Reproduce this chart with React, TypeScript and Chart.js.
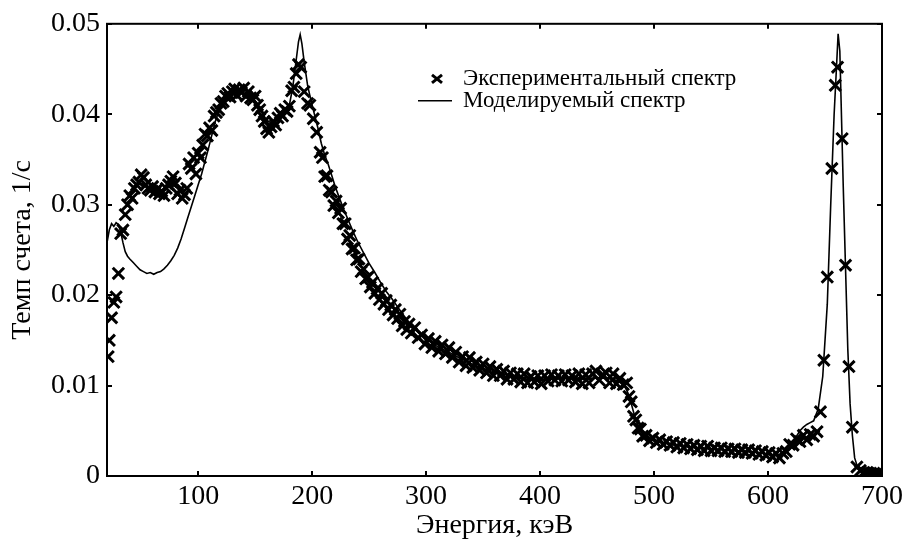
import React, { useEffect, useRef } from 'react';
import { Chart, registerables } from 'chart.js';

Chart.register(...registerables);

const FONT = '"Liberation Serif", "Times New Roman", serif';

const xTickValues = [100, 200, 300, 400, 500, 600, 700];
const yTickValues = [0, 0.01, 0.02, 0.03, 0.04, 0.05];

const legendLabels = ['Экспериментальный спектр', 'Моделируемый спектр'];
const xTitle = 'Энергия, кэВ';
const yTitle = 'Темп счета, 1/с';

// Experimental spectrum (crosses)
const expEnergy = [
  21, 22, 24, 26, 28, 30, 32, 34, 36, 38,
  40, 42, 44, 46, 48, 50, 52, 54, 56, 58,
  60, 62, 64, 66, 68, 70, 72, 74, 76, 78,
  80, 82, 84, 86, 88, 90, 92, 94, 96, 98,
  100, 102, 104, 106, 108, 110, 112, 114, 116, 118,
  120, 122, 124, 126, 128, 130, 132, 134, 136, 138,
  140, 142, 144, 146, 148, 150, 152, 154, 156, 158,
  160, 162, 164, 166, 168, 170, 172, 174, 176, 178,
  180, 182, 184, 186, 188, 190, 193, 196, 198, 201,
  204, 207, 209, 211, 213, 215, 217, 219, 221, 223,
  225, 227, 229, 231, 233, 235, 237, 239, 241, 243,
  245, 247, 249, 251, 253, 255, 257, 259, 261, 263,
  265, 267, 269, 271, 273, 275, 277, 279, 281, 283,
  285, 287, 290, 293, 296, 299, 302, 305, 308, 311,
  314, 317, 320, 323, 326, 329, 332, 335, 338, 341,
  344, 347, 350, 353, 356, 359, 362, 365, 368, 371,
  374, 377, 380, 383, 386, 389, 392, 395, 398, 401,
  404, 407, 410, 413, 416, 419, 422, 425, 428, 431,
  434, 437, 440, 443, 446, 449, 452, 455, 458, 461,
  464, 467, 470, 473, 476, 478, 480, 482, 484, 486,
  488, 490, 493, 496, 499, 502, 505, 508, 511, 514,
  517, 520, 523, 526, 529, 532, 535, 538, 541, 544,
  547, 550, 553, 556, 559, 562, 565, 568, 571, 574,
  577, 580, 583, 586, 589, 592, 595, 598, 601, 604,
  607, 610, 613, 616, 619, 622, 625, 628, 631, 634,
  637, 640, 643, 646, 649, 652, 656, 659, 661, 665,
  668, 671, 674, 678, 681, 684, 687, 690, 693, 696,
  699,
];
const expRate = [
  0.0132, 0.0150, 0.0175, 0.0192, 0.0198, 0.0224, 0.0268, 0.0272, 0.0289, 0.0300,
  0.0310, 0.0307, 0.0318, 0.0322, 0.0325, 0.0333, 0.0330, 0.0322, 0.0318, 0.0316,
  0.0320, 0.0314, 0.0317, 0.0312, 0.0315, 0.0310, 0.0318, 0.0322, 0.0326, 0.0331,
  0.0324, 0.0312, 0.0316, 0.0307, 0.0311, 0.0318, 0.0345, 0.0340, 0.0352, 0.0334,
  0.0357, 0.0352, 0.0366, 0.0378, 0.0376, 0.0385, 0.0382, 0.0398, 0.0402, 0.0405,
  0.0412, 0.0414, 0.0420, 0.0423, 0.0419, 0.0425, 0.0428, 0.0421, 0.0427, 0.0424,
  0.0429, 0.0420, 0.0425, 0.0418, 0.0416, 0.0420, 0.0410, 0.0405, 0.0398, 0.0392,
  0.0384, 0.0380, 0.0386, 0.0392, 0.0388, 0.0396, 0.0401, 0.0398, 0.0405, 0.0403,
  0.0409, 0.0426, 0.0430, 0.0445, 0.0455, 0.0452, 0.0425, 0.0412, 0.0410, 0.0395,
  0.0380, 0.0358, 0.0352, 0.0331, 0.0332, 0.0316, 0.0314, 0.0299, 0.0304, 0.0291,
  0.0296, 0.0279, 0.0279, 0.0262, 0.0266, 0.0251, 0.0252, 0.0239, 0.0240, 0.0226,
  0.0229, 0.0218, 0.0220, 0.0209, 0.0214, 0.0202, 0.0207, 0.0195, 0.0202, 0.0190,
  0.0194, 0.0184, 0.0189, 0.0178, 0.0184, 0.0174, 0.0179, 0.0166, 0.0171, 0.0162,
  0.0168, 0.0158, 0.0164, 0.0153, 0.0156, 0.0146, 0.0152, 0.0142, 0.0149, 0.0138,
  0.0145, 0.0135, 0.0142, 0.0131, 0.0137, 0.0126, 0.0132, 0.0122, 0.0131, 0.0120,
  0.0126, 0.0117, 0.0124, 0.0114, 0.0121, 0.0111, 0.0118, 0.0111, 0.0116, 0.0107,
  0.0114, 0.0107, 0.0113, 0.0104, 0.0113, 0.0103, 0.0110, 0.0104, 0.0111, 0.0102,
  0.0111, 0.0105, 0.0112, 0.0106, 0.0111, 0.0105, 0.0112, 0.0106, 0.0111, 0.0104,
  0.0113, 0.0102, 0.0112, 0.0103, 0.0113, 0.0116, 0.0106, 0.0112, 0.0114, 0.0103,
  0.0113, 0.0102, 0.0108, 0.0101, 0.0103, 0.0088, 0.0082, 0.0066, 0.0062, 0.0053,
  0.0052, 0.0044, 0.0045, 0.0039, 0.0042, 0.0037, 0.0040, 0.0035, 0.0038, 0.0034,
  0.0037, 0.0032, 0.0036, 0.0031, 0.0035, 0.0030, 0.0034, 0.0029, 0.0033, 0.0028,
  0.0033, 0.0028, 0.0031, 0.0028, 0.0031, 0.0027, 0.0030, 0.0027, 0.0030, 0.0026,
  0.0029, 0.0026, 0.0029, 0.0025, 0.0028, 0.0024, 0.0027, 0.0023, 0.0026, 0.0021,
  0.0025, 0.0020, 0.0025, 0.0027, 0.0035, 0.0034, 0.0041, 0.0038, 0.0045, 0.0040,
  0.0046, 0.0044, 0.0049, 0.0071, 0.0128, 0.0220, 0.0340, 0.0432, 0.0452, 0.0373,
  0.0233, 0.0121, 0.0054, 0.0010, 0.0006, 0.0004, 0.0004, 0.0003, 0.0003, 0.0003,
  0.0002,
];

// Modelled spectrum (line)
const modelEnergy = [
  20, 22, 24, 26, 28, 30, 32, 34, 36, 38,
  40, 43, 46, 49, 52, 55, 58, 61, 64, 67,
  70, 73, 76, 79, 82, 85, 88, 91, 94, 97,
  100, 103, 106, 109, 112, 115, 118, 121, 124, 127,
  130, 135, 140, 145, 150, 155, 160, 165, 170, 175,
  180, 183, 186, 188, 189.5, 191, 193, 196, 199, 202,
  205, 208, 211, 214, 217, 220, 224, 228, 232, 236,
  240, 245, 250, 255, 260, 265, 270, 275, 280, 285,
  290, 295, 300, 310, 320, 330, 340, 350, 360, 370,
  380, 390, 400, 410, 420, 430, 440, 450, 460, 466,
  470, 474, 477, 480, 483, 486, 490, 495, 500, 510,
  520, 530, 540, 550, 560, 570, 580, 590, 600, 606,
  610, 615, 620, 625, 628, 631, 634, 637, 640, 644,
  648, 652, 655, 658, 660, 661.5, 663, 664, 666, 668,
  670, 672, 674, 676, 678, 682, 690, 700,
];
const modelRate = [
  0.0258, 0.0272, 0.0279, 0.0276, 0.0280, 0.0278, 0.0270, 0.0258, 0.0248, 0.0243,
  0.0240, 0.0236, 0.0232, 0.0228, 0.0226, 0.0224, 0.0225, 0.0223, 0.0225, 0.0226,
  0.0229, 0.0233, 0.0238, 0.0244, 0.0252, 0.0262, 0.0274, 0.0286, 0.0298, 0.0310,
  0.0322, 0.0334, 0.0348, 0.0362, 0.0377, 0.0392, 0.0403, 0.0412, 0.0418, 0.0422,
  0.0425, 0.0427, 0.0425, 0.0422, 0.0415, 0.0405, 0.0393, 0.0390, 0.0395, 0.0400,
  0.0410, 0.0430, 0.0460, 0.0480, 0.0488, 0.0478, 0.0458, 0.0432, 0.0415, 0.0400,
  0.0385, 0.0368, 0.0355, 0.0345, 0.0333, 0.0321, 0.0307, 0.0294, 0.0282, 0.0270,
  0.0259, 0.0247, 0.0235, 0.0225, 0.0214, 0.0204, 0.0196, 0.0187, 0.0178, 0.0170,
  0.0163, 0.0157, 0.0151, 0.0143, 0.0137, 0.0130, 0.0124, 0.0119, 0.0115, 0.0112,
  0.0109, 0.0107, 0.0106, 0.0107, 0.0108, 0.0108, 0.0108, 0.0108, 0.0108, 0.0106,
  0.0104, 0.0100, 0.0092, 0.0080, 0.0066, 0.0056, 0.0047, 0.0042, 0.0039, 0.0036,
  0.0034, 0.0032, 0.0031, 0.0030, 0.0029, 0.0028, 0.0027, 0.0026, 0.0024, 0.0023,
  0.0024, 0.0029, 0.0035, 0.0044, 0.0050, 0.0054, 0.0057, 0.0059, 0.0061, 0.0074,
  0.0110, 0.0190, 0.0300, 0.0400, 0.0450, 0.0489, 0.0470, 0.0420, 0.0320, 0.0230,
  0.0140, 0.0080, 0.0045, 0.0020, 0.0012, 0.0008, 0.0006, 0.0005,
];

export default function App() {
  const ref = useRef<HTMLCanvasElement | null>(null);

  useEffect(() => {
    document.body.style.margin = '0';
    const canvas = ref.current;
    if (!canvas) return;

    const framePlugin = {
      id: 'frameTicksLegend',
      afterDatasetsDraw(chart: any) {
        const { ctx, chartArea: a, scales } = chart;
        ctx.save();
        ctx.strokeStyle = '#000';
        ctx.lineWidth = 2;
        ctx.strokeRect(a.left, a.top, a.right - a.left, a.bottom - a.top);
        const L = 5;
        ctx.beginPath();
        xTickValues.forEach((v) => {
          const px = Math.round(scales.x.getPixelForValue(v));
          ctx.moveTo(px, a.bottom);
          ctx.lineTo(px, a.bottom - L);
          ctx.moveTo(px, a.top);
          ctx.lineTo(px, a.top + L);
        });
        yTickValues.forEach((v) => {
          const py = Math.round(scales.y.getPixelForValue(v));
          ctx.moveTo(a.left, py);
          ctx.lineTo(a.left + L, py);
          ctx.moveTo(a.right, py);
          ctx.lineTo(a.right - L, py);
        });
        ctx.stroke();

        // legend
        const lx = a.left + 330;
        const ly1 = a.top + 55;
        const ly2 = a.top + 77;
        ctx.lineWidth = 3;
        ctx.beginPath();
        ctx.moveTo(lx - 5, ly1 - 4);
        ctx.lineTo(lx + 5, ly1 + 4);
        ctx.moveTo(lx - 5, ly1 + 4);
        ctx.lineTo(lx + 5, ly1 - 4);
        ctx.stroke();
        ctx.lineWidth = 1.5;
        ctx.beginPath();
        ctx.moveTo(lx - 19, ly2);
        ctx.lineTo(lx + 15, ly2);
        ctx.stroke();
        ctx.fillStyle = '#000';
        ctx.font = `23px ${FONT}`;
        ctx.textAlign = 'left';
        ctx.textBaseline = 'middle';
        ctx.fillText(legendLabels[0], lx + 26, ly1);
        ctx.fillText(legendLabels[1], lx + 26, ly2);
        ctx.restore();
      },
    };

    const chart = new Chart(canvas, {
      type: 'scatter',
      data: {
        datasets: [
          {
            label: legendLabels[0],
            data: expEnergy.map((e, i) => ({ x: e, y: expRate[i] })),
            showLine: false,
            pointStyle: 'crossRot',
            pointRadius: 8,
            borderWidth: 3,
            borderColor: '#000',
            backgroundColor: '#000',
          },
          {
            label: legendLabels[1],
            data: modelEnergy.map((e, i) => ({ x: e, y: modelRate[i] })),
            showLine: true,
            pointRadius: 0,
            borderWidth: 1.6,
            borderColor: '#000',
            tension: 0,
          },
        ],
      },
      options: {
        animation: false,
        responsive: false,
        devicePixelRatio: 1,
        layout: { padding: { top: 23, right: 22, left: 0, bottom: 0 } },
        plugins: { legend: { display: false }, tooltip: { enabled: false } },
        scales: {
          x: {
            type: 'linear',
            min: 20,
            max: 700,
            afterBuildTicks: (scale: any) => {
              scale.ticks = xTickValues.map((v) => ({ value: v }));
            },
            afterFit: (scale: any) => {
              scale.height = 64;
            },
            grid: { display: false, drawTicks: false },
            border: { display: false },
            ticks: {
              color: '#000',
              font: { family: FONT, size: 28 },
              padding: 4,
              maxRotation: 0,
              autoSkip: false,
            },
            title: {
              display: true,
              text: xTitle,
              color: '#000',
              font: { family: FONT, size: 28, lineHeight: 1 },
              padding: 0,
            },
          },
          y: {
            type: 'linear',
            min: 0,
            max: 0.05,
            afterBuildTicks: (scale: any) => {
              scale.ticks = yTickValues.map((v) => ({ value: v }));
            },
            afterFit: (scale: any) => {
              scale.width = 107;
            },
            grid: { display: false, drawTicks: false },
            border: { display: false },
            ticks: {
              color: '#000',
              font: { family: FONT, size: 28 },
              padding: 7,
              callback: (v: any) => (v === 0 ? '0' : Number(v).toFixed(2)),
            },
            title: {
              display: true,
              text: yTitle,
              color: '#000',
              font: { family: FONT, size: 28, lineHeight: 1 },
              padding: { top: 9, bottom: 0 },
            },
          },
        },
      },
      plugins: [framePlugin],
    });

    return () => chart.destroy();
  }, []);

  return <canvas ref={ref} width={907} height={540} style={{ display: 'block' }} />;
}
